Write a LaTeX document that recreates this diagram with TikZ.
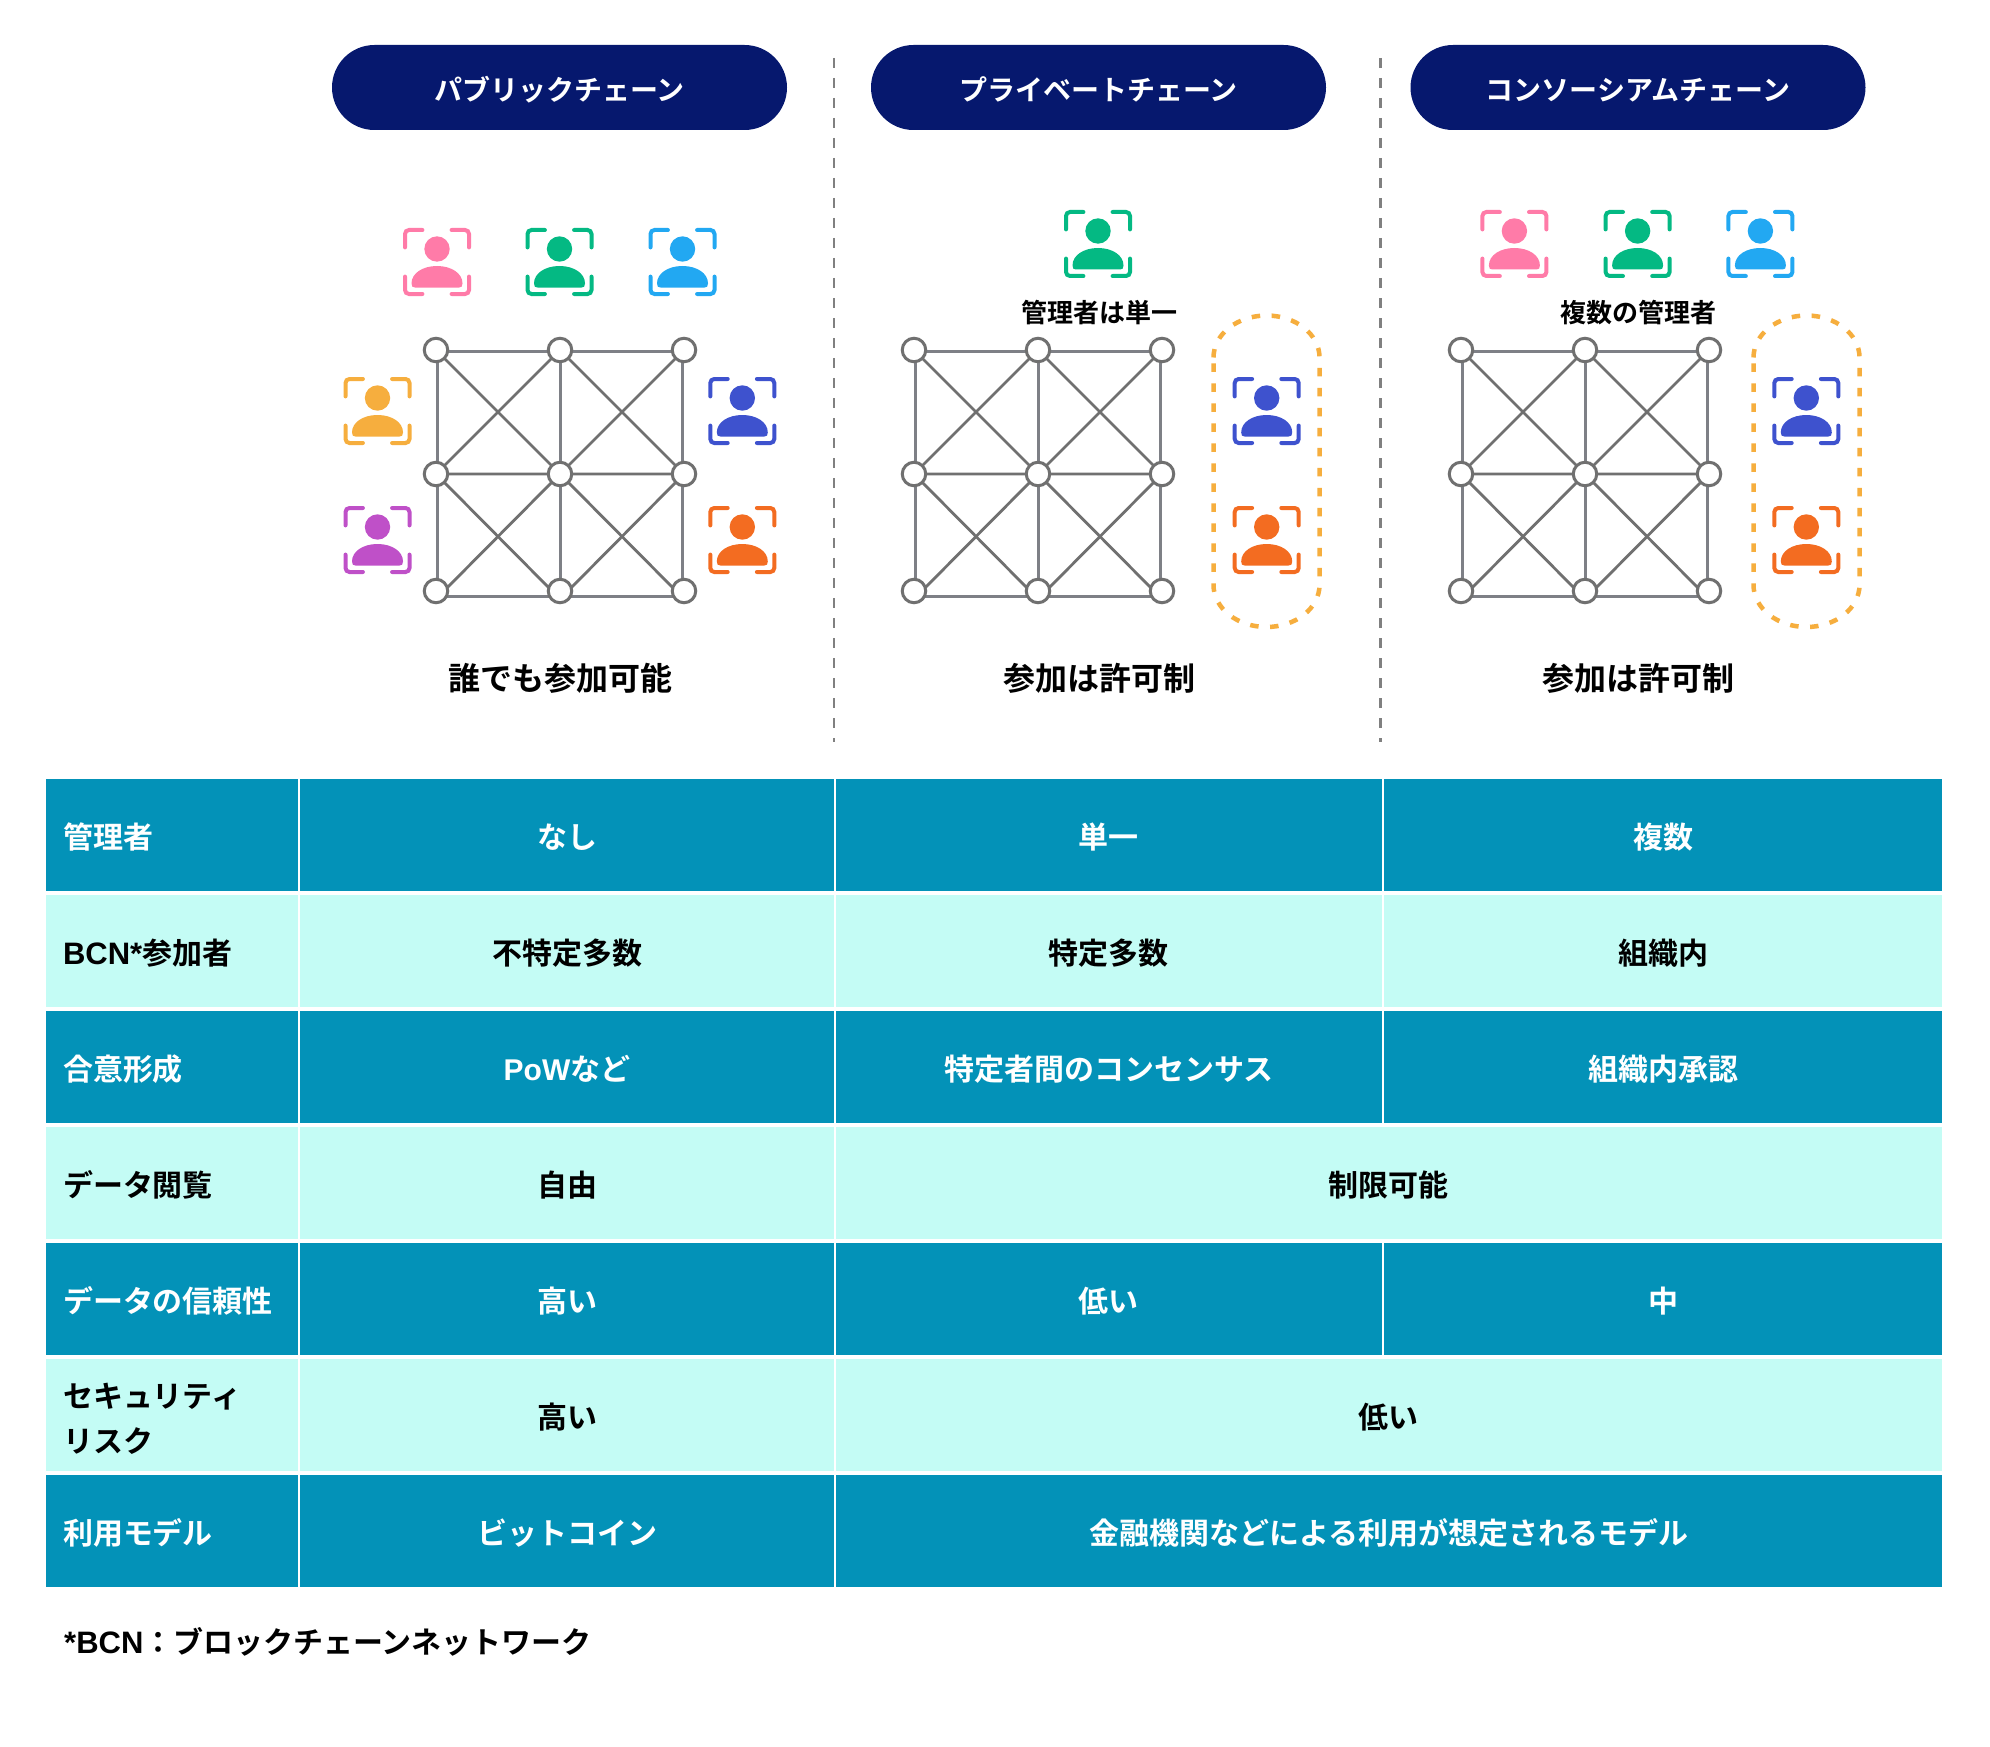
\documentclass[tikz,border=0pt]{standalone}
\usepackage{fontspec}
\setmainfont{Noto Sans CJK JP}[BoldFont=* Bold]
\newfontfamily\latinpart{Liberation Sans}
\usetikzlibrary{shapes.misc,backgrounds}
\definecolor{navypill}{HTML}{06186E}
\definecolor{tealrow}{HTML}{0392B8}
\definecolor{mintrow}{HTML}{C4FCF5}
\definecolor{gridgray}{HTML}{7E8086}
\definecolor{diaggray}{HTML}{707070}
\definecolor{pinkp}{HTML}{FF7BA8}
\definecolor{greenp}{HTML}{04B983}
\definecolor{bluep}{HTML}{22A8F2}
\definecolor{yellowp}{HTML}{F6AE3E}
\definecolor{purplep}{HTML}{BF50C8}
\definecolor{navyp}{HTML}{3E52CE}
\definecolor{orangep}{HTML}{F36C21}
\newcommand{\wideLatin}[1]{{\latinpart\fontsize{31}{44.5}\selectfont #1}}
\tikzset{
  txt30/.style={font=\bfseries\fontsize{30}{30}\selectfont,text height=26.4pt,text depth=3.6pt,inner sep=0pt},
  txt32/.style={font=\bfseries\fontsize{32}{32}\selectfont,text height=28.2pt,text depth=3.8pt,inner sep=0pt},
  txt26/.style={font=\bfseries\fontsize{26}{26}\selectfont,text height=22.9pt,text depth=3.1pt,inner sep=0pt},
  pilltxt/.style={rounded rectangle,fill=navypill,text=white,minimum width=455pt,minimum height=85pt,inner sep=0pt,
     font=\bfseries\fontsize{28}{28}\selectfont,text height=29pt,text depth=2pt},
  cellbase/.style={rectangle,inner ysep=0pt,inner xsep=0pt,minimum height=112pt,
     font=\bfseries\fontsize{30}{44.5}\selectfont,text height=31pt,text depth=4pt},
  tealc/.style={cellbase,fill=tealrow,text=white},
  mintc/.style={cellbase,fill=mintrow,text=black},
  headc/.style={text width=218pt,inner xsep=17pt,align=left,minimum width=252pt},
  wA/.style={minimum width=534pt},
  wB/.style={minimum width=546.5pt},
  wC/.style={minimum width=558pt},
  wM/.style={minimum width=1106.5pt},
  netnode/.style={circle,draw=diaggray,line width=3pt,fill=white,minimum size=23.5pt,inner sep=0pt,outer sep=0pt},
  netline/.style={draw=gridgray,line width=3pt},
  netdiag/.style={draw=diaggray,line width=2.8pt},
  divider/.style={draw=gray,line width=2.2pt,dash pattern=on 10pt off 10pt},
  capsule/.style={draw=yellowp,line width=4.5pt,dash pattern=on 8.5pt off 11.5pt},
}
\newcommand{\personicon}[3]{%
  \begin{scope}[shift={(#1,#2)}]
    \draw[#3,line width=4pt,line cap=round,rounded corners=4pt]
      (-32,-14.6)--(-32,-32)--(-14.6,-32)
      (14.6,-32)--(32,-32)--(32,-14.6)
      (32,14.6)--(32,32)--(14.6,32)
      (-14.6,32)--(-32,32)--(-32,14.6);
    \fill[#3] (0,-13) circle[radius=12.7pt];
    \fill[#3] (-25.5,21.5) .. controls (-25.5,11) and (-14,4) .. (0,4)
       .. controls (14,4) and (25.5,11) .. (25.5,21.5)
       .. controls (25.5,24.5) and (24.5,25.5) .. (22,25.5)
       -- (-22,25.5) .. controls (-24.5,25.5) and (-25.5,24.5) .. (-25.5,21.5) -- cycle;
  \end{scope}}
\newcommand{\network}[2]{%
  \begin{scope}[shift={(#2,0)}]
    \node[netnode] (#1a1) at (0,350) {};
    \node[netnode] (#1a2) at (124,350) {};
    \node[netnode] (#1a3) at (248,350) {};
    \node[netnode] (#1b1) at (0,474) {};
    \node[netnode] (#1b2) at (124,474) {};
    \node[netnode] (#1b3) at (248,474) {};
    \node[netnode] (#1c1) at (0,591) {};
    \node[netnode] (#1c2) at (124,591) {};
    \node[netnode] (#1c3) at (248,591) {};
    \coordinate (#1ta) at (1,351); \coordinate (#1tb) at (246,351);
    \coordinate (#1la) at (1,350); \coordinate (#1lb) at (1,596);
    \coordinate (#1ra) at (246,350); \coordinate (#1rb) at (246,596);
    \coordinate (#1ba) at (1,596); \coordinate (#1bb) at (246,596);
    \coordinate (#1d1) at (0,599); \coordinate (#1d2) at (124,599); \coordinate (#1d3) at (248,599);
    \begin{pgfonlayer}{background}
      \path[netline] (#1ta)--(#1tb) (#1la)--(#1lb) (#1ra)--(#1rb) (#1ba)--(#1bb)
        (#1a2.center)--(#1c2.center);
      \path[netdiag] (#1b1.center)--(#1b3.center)
        (#1a1.center)--(#1b2.center) (#1a2.center)--(#1b1.center)
        (#1a2.center)--(#1b3.center) (#1a3.center)--(#1b2.center)
        (#1b1.center)--(#1d2) (#1b2.center)--(#1d1)
        (#1b2.center)--(#1d3) (#1b3.center)--(#1d2);
    \end{pgfonlayer}
  \end{scope}}
\newcommand{\capsuleshape}[1]{%
  \draw[capsule,shift={(#1,0)}] (-53,357.5)
    .. controls (-53,334.3) and (-29.3,315.5) .. (0,315.5)
    .. controls (29.3,315.5) and (53,334.3) .. (53,357.5)
    -- (53,585)
    .. controls (53,608.2) and (29.3,627) .. (0,627)
    .. controls (-29.3,627) and (-53,608.2) .. (-53,585) -- cycle;}
\begin{document}
\begin{tikzpicture}[x=1pt,y=-1pt]
\useasboundingbox (0,0) rectangle (1990,1747);
\begin{pgfonlayer}{background}
\fill[white] (0,0) rectangle (1990,1747);
\end{pgfonlayer}
% pills
\node[pilltxt] (pillA) at (559.5,87.5) {パブリックチェーン};
\node[pilltxt] (pillB) at (1098.5,87.5) {プライベートチェーン};
\node[pilltxt] (pillC) at (1638,87.5) {コンソーシアムチェーン};
% dividers
\coordinate (divAt) at (834,58); \coordinate (divAb) at (834,742);
\coordinate (divBt) at (1380.5,58); \coordinate (divBb) at (1380.5,742);
\draw[divider] (divAt)--(divAb);
\draw[divider] (divBt)--(divBb);
% networks
\network{A}{436}
\network{B}{914}
\network{C}{1461}
% people, public
\personicon{437}{262}{pinkp}
\personicon{559.5}{262}{greenp}
\personicon{682.5}{262}{bluep}
\personicon{377.5}{411}{yellowp}
\personicon{377.5}{540}{purplep}
\personicon{742.3}{411}{navyp}
\personicon{742.3}{540}{orangep}
% people, private
\personicon{1098}{244}{greenp}
\personicon{1266.7}{411}{navyp}
\personicon{1266.7}{540}{orangep}
\capsuleshape{1266.5}
% people, consortium
\personicon{1514.4}{244}{pinkp}
\personicon{1637.6}{244}{greenp}
\personicon{1760.4}{244}{bluep}
\personicon{1806.3}{411}{navyp}
\personicon{1806.3}{540}{orangep}
\capsuleshape{1806.5}
% captions
\node[txt26] (capB) at (1099,312.5) {管理者は単一};
\node[txt26] (capC) at (1638,312.5) {複数の管理者};
\node[txt32] (joinA) at (560,678) {誰でも参加可能};
\node[txt32] (joinB) at (1099,678) {参加は許可制};
\node[txt32] (joinC) at (1638,678) {参加は許可制};
% table
\node[tealc,headc] (r1h) at (172,835) {管理者};
\node[tealc,wA] (r1a) at (567,835) {なし};
\node[tealc,wB] (r1b) at (1108.75,835) {単一};
\node[tealc,wC] (r1c) at (1663,835) {複数};
\node[mintc,headc] (r2h) at (172,951) {\wideLatin{BCN*}参加者};
\node[mintc,wA] (r2a) at (567,951) {不特定多数};
\node[mintc,wB] (r2b) at (1108.75,951) {特定多数};
\node[mintc,wC] (r2c) at (1663,951) {組織内};
\node[tealc,headc] (r3h) at (172,1067) {合意形成};
\node[tealc,wA] (r3a) at (567,1067) {{\latinpart PoW}など};
\node[tealc,wB] (r3b) at (1108.75,1067) {特定者間のコンセンサス};
\node[tealc,wC] (r3c) at (1663,1067) {組織内承認};
\node[mintc,headc] (r4h) at (172,1183) {データ閲覧};
\node[mintc,wA] (r4a) at (567,1183) {自由};
\node[mintc,wM] (r4b) at (1388.75,1183) {制限可能};
\node[tealc,headc] (r5h) at (172,1299) {データの信頼性};
\node[tealc,wA] (r5a) at (567,1299) {高い};
\node[tealc,wB] (r5b) at (1108.75,1299) {低い};
\node[tealc,wC] (r5c) at (1663,1299) {中};
\node[mintc,headc,text height=,text depth=] (r6h) at (172,1415) {\rule{0pt}{32pt}セキュリティ\\リスク};
\node[mintc,wA] (r6a) at (567,1415) {高い};
\node[mintc,wM] (r6b) at (1388.75,1415) {低い};
\node[tealc,headc] (r7h) at (172,1531) {利用モデル};
\node[tealc,wA] (r7a) at (567,1531) {ビットコイン};
\node[tealc,wM] (r7b) at (1388.75,1531) {金融機関などによる利用が想定されるモデル};
% footnote
\node[txt30,anchor=west] (foot) at (64,1642) {\wideLatin{*BCN}：ブロックチェーンネットワーク};
\end{tikzpicture}
\end{document}
